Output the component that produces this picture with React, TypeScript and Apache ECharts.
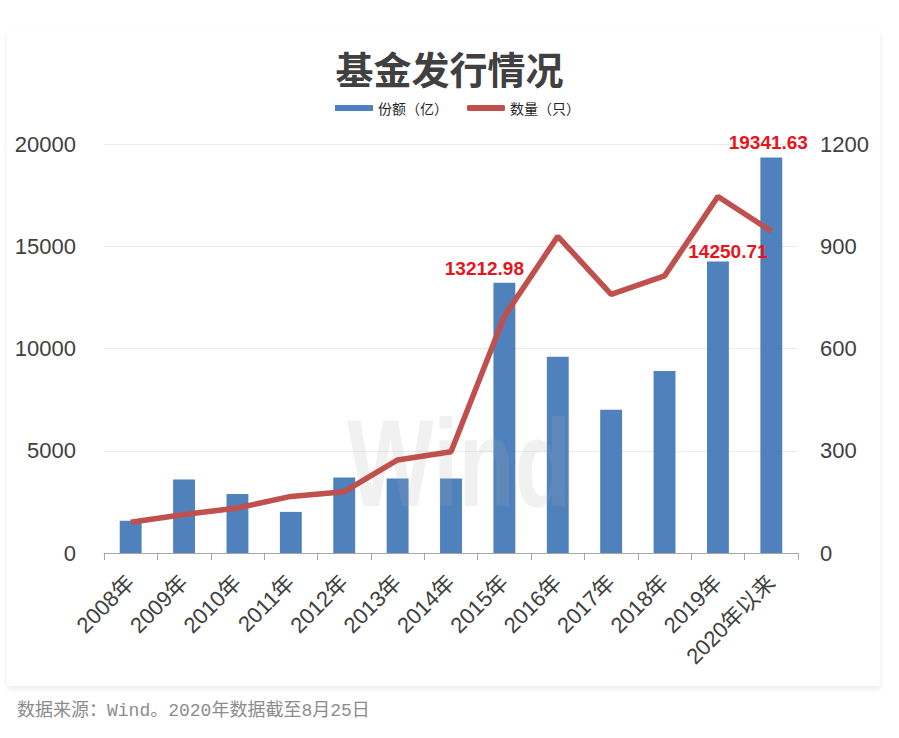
import React, { useEffect, useRef } from "react";
import * as echarts from "echarts";

const categories = [
  "2008年", "2009年", "2010年", "2011年", "2012年", "2013年", "2014年",
  "2015年", "2016年", "2017年", "2018年", "2019年", "2020年以来",
];
// 份额（亿）
const shareValues = [1580, 3590, 2890, 2010, 3690, 3640, 3640, 13212.98, 9600, 7000, 8900, 14250.71, 19341.63];
// 数量（只）
const countValues = [90, 113, 132, 166, 180, 273, 297, 695, 929, 759, 813, 1046, 944];
const leftTicks = { min: 0, max: 20000, interval: 5000 };
const rightTicks = { min: 0, max: 1200, interval: 300 };
const labelledBars: Record<number, number[]> = { 7: [-20, 0], 11: [10, 4], 12: [-3, 0] };

const FONT = 'Arial, "Liberation Sans", "Noto Sans CJK SC", sans-serif';

export default function App() {
  const ref = useRef<HTMLDivElement>(null);
  useEffect(() => {
    if (!ref.current) return;
    const chart = echarts.init(ref.current, undefined, { renderer: "svg" });
    const barData = shareValues.map((v, i) => {
      const off = labelledBars[i];
      if (!off) return v;
      return {
        value: v,
        label: {
          show: true,
          position: "top",
          offset: off,
          color: "#E8141B",
          fontWeight: "bold",
          fontSize: 19,
          fontFamily: FONT,
          formatter: (p: any) => Number(p.value).toFixed(2),
        },
      };
    });
    chart.setOption({
      animation: false,
      backgroundColor: "transparent",
      title: {
        text: "基金发行情况",
        left: "center",
        top: 43,
        textStyle: { fontSize: 38, fontWeight: "bold", color: "#404040", fontFamily: '"Noto Sans CJK SC", sans-serif' },
      },
      legend: {
        left: 330,
        top: 96,
        itemWidth: 38,
        itemHeight: 6,
        itemGap: 19,
        textStyle: { fontSize: 14, color: "#262626", fontFamily: '"Noto Sans CJK SC", sans-serif' },
        data: [
          { name: "份额（亿）", icon: "rect" },
          { name: "数量（只）", icon: "roundRect" },
        ],
      },
      grid: { left: 104, right: 101, top: 144, bottom: 185, containLabel: false },
      xAxis: {
        type: "category",
        data: categories,
        axisLine: { lineStyle: { color: "#A6A6A6", width: 1 } },
        axisTick: { show: true, length: 7, lineStyle: { color: "#A6A6A6" } },
        axisLabel: { rotate: 45, margin: 26, fontSize: 22, color: "#404040", fontFamily: FONT, interval: 0 },
      },
      yAxis: [
        {
          type: "value",
          ...leftTicks,
          axisLine: { show: false },
          axisTick: { show: false },
          axisLabel: { margin: 28, fontSize: 22, color: "#404040", fontFamily: FONT, formatter: (v: number) => String(v) },
          splitLine: { lineStyle: { color: "#EBEBEB" } },
        },
        {
          type: "value",
          ...rightTicks,
          axisLine: { show: false },
          axisTick: { show: false },
          axisLabel: { margin: 22, fontSize: 22, color: "#404040", fontFamily: FONT, formatter: (v: number) => String(v) },
          splitLine: { show: false },
        },
      ],
      graphic: [
        {
          type: "text",
          z: 3,
          x: 459,
          y: 463,
          scaleX: 0.78,
          scaleY: 1.05,
          style: {
            text: "Wind",
            fontSize: 118,
            fontWeight: "bold",
            fontFamily: FONT,
            fill: "rgba(170,170,170,0.17)",
            textAlign: "center",
            textVerticalAlign: "middle",
          },
        },
        {
          type: "text",
          left: 17,
          top: 702,
          style: {
            text: "数据来源：Wind。2020年数据截至8月25日",
            fontSize: 18,
            fontFamily: '"Liberation Mono", "Noto Sans CJK SC", monospace',
            fill: "#8C8C8C",
          },
        },
      ],
      series: [
        {
          name: "份额（亿）",
          type: "bar",
          yAxisIndex: 0,
          barWidth: "41%",
          z: 2,
          itemStyle: { color: "#4F81BD" },
          data: barData,
        },
        {
          name: "数量（只）",
          type: "line",
          yAxisIndex: 1,
          z: 5,
          showSymbol: false,
          symbol: "none",
          lineStyle: { color: "#C0504D", width: 5.5 },
          itemStyle: { color: "#C0504D" },
          data: countValues,
        },
      ],
    });
    return () => chart.dispose();
  }, []);
  return (
    <div style={{ position: "absolute", left: 0, top: 0, width: 899, height: 738, background: "#fff" }}>
      <div
        style={{
          position: "absolute",
          left: 7,
          top: 30,
          width: 873,
          height: 656,
          background: "#fff",
          boxShadow: "0 3px 6px rgba(0,0,0,0.08)",
        }}
      />
      <div ref={ref} style={{ position: "absolute", left: 0, top: 0, width: 899, height: 738 }} />
    </div>
  );
}
